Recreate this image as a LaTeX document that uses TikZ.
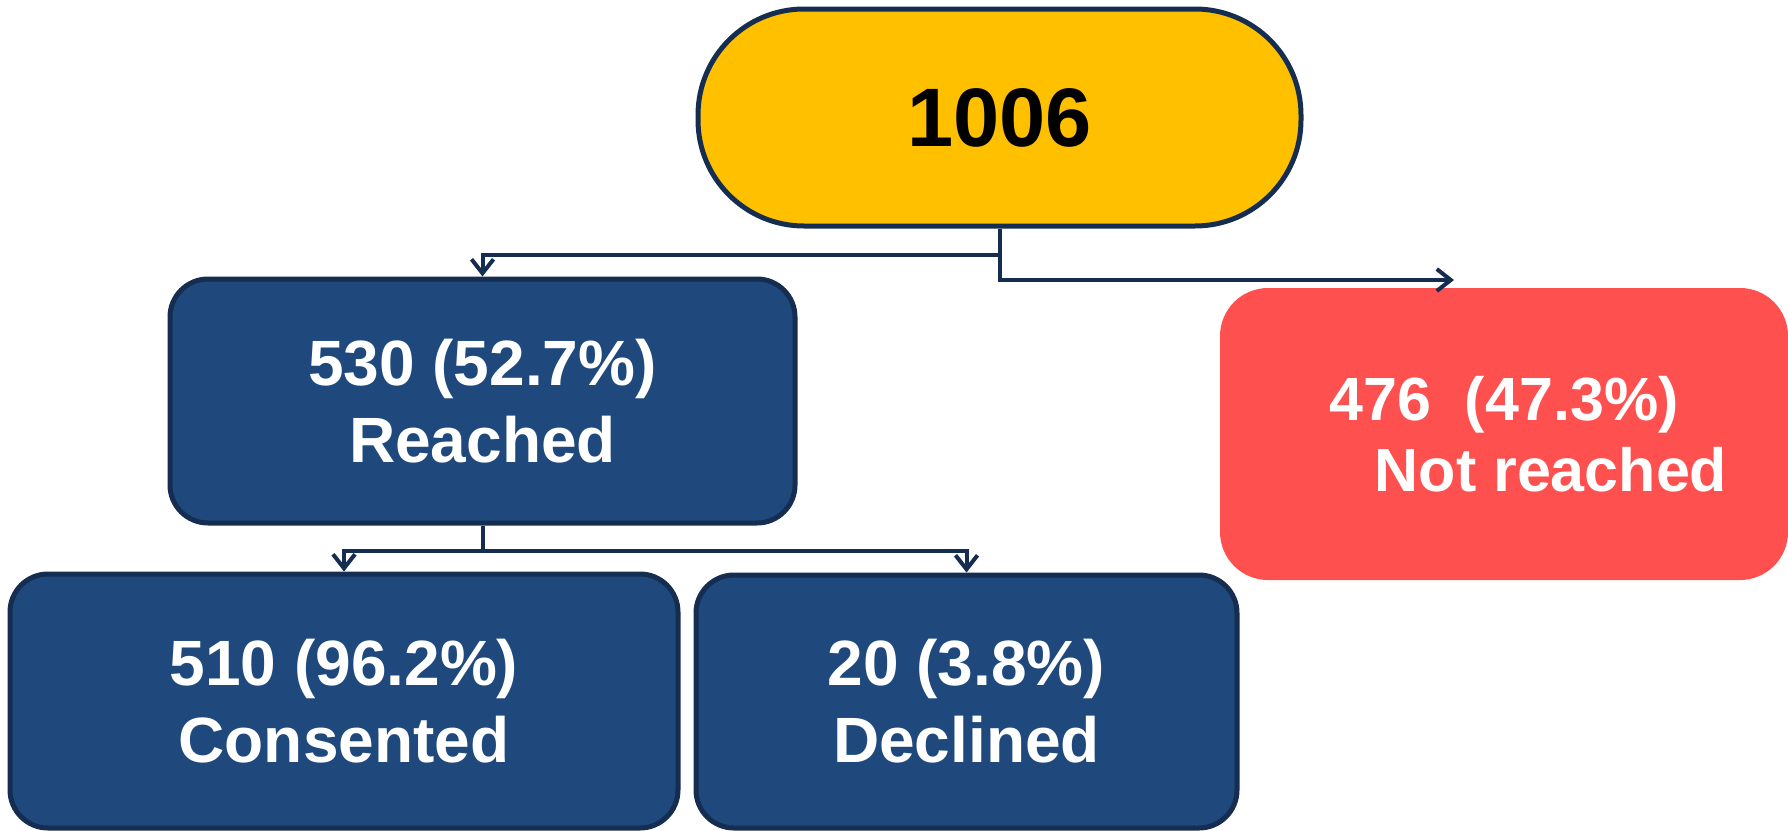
\documentclass[tikz,border=0pt]{standalone}
\usepackage{fontspec}
\setmainfont{Liberation Sans}
\usepackage{tikz}
\usetikzlibrary{
	positioning,
	arrows.meta
}
\definecolor{gold}{HTML}{FFC000}
\definecolor{navy}{HTML}{1F497D}
\definecolor{navyline}{HTML}{142D50}
\definecolor{coral}{HTML}{FF5050}
\tikzset{
	box/.style={
		rectangle,
		inner sep=0pt,
		align=center,
		text=white,
		font=\bfseries\fontsize{32pt}{38.5pt}\selectfont
	},
	bluebox/.style={
		box,
		draw=navyline,
		line width=2.5pt,
		fill=navy,
		rounded corners=19pt
	},
	link/.style={
		draw=navyline,
		line width=2pt
	},
	every arrow/.style={
		-{Straight Barb[length=7pt,width=11pt]}
	}
}

\begin{document}
\begin{tikzpicture}[x=0.5pt,y=-0.5pt]
		\useasboundingbox (0,0) rectangle (1788,830);
		\draw
			node[box,draw=navyline,line width=2.5pt,fill=gold,rounded corners=53pt,
				minimum width=301.5pt,minimum height=108.5pt,text=black,
				font=\bfseries\fontsize{41.5pt}{48pt}\selectfont]
				(total) at (999.5,117.5) {1006}
			node[bluebox,minimum width=312.5pt,minimum height=122pt]
				(reached) at (482.5,401) {530 (52.7\%)\\Reached}
			node[box,fill=coral,rounded corners=24pt,
				minimum width=284pt,minimum height=146pt,
				font=\bfseries\fontsize{30.5pt}{35.5pt}\selectfont]
				(notreached) at (1504,434) {476\ \ (47.3\%)\\\hspace*{47pt}Not reached}
			node[bluebox,minimum width=334pt,minimum height=127pt]
				(consented) at (344,701) {510 (96.2\%)\\Consented}
			node[bluebox,minimum width=270.5pt,minimum height=126.5pt]
				(declined) at (966.5,701.5) {20 (3.8\%)\\Declined}
		;
		\coordinate (nrtip) at (1454,280);
		
		\draw[link,every arrow] (total.south) -- ++(0,26) -| (reached.north);
		\draw[link,every arrow] (total.south) |- (nrtip);
		\draw[link,every arrow] (reached.south) -- ++(0,25) -| (consented.north);
		\draw[link,every arrow] (reached.south) -- ++(0,25) -| (declined.north);
	\end{tikzpicture}
\end{document}
